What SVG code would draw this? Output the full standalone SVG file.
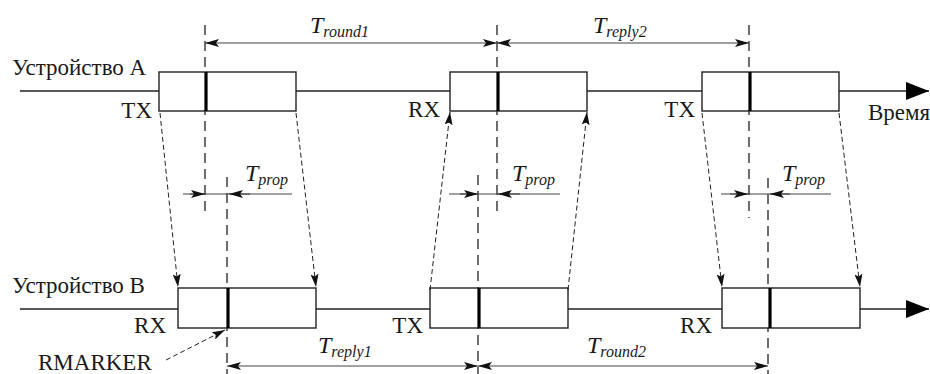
<svg xmlns="http://www.w3.org/2000/svg" width="930" height="374" viewBox="0 0 930 374">
<style>
text{font-family:"Liberation Serif","Times New Roman",serif;fill:#1a1a1a}
.lbl{font-size:23px}
.ti{font-size:24px;font-style:italic}
.sub{font-size:16px;font-style:italic}
.box{fill:#fff;stroke:#222;stroke-width:1.4}
.mk{stroke:#000;stroke-width:3.2}
.tl{stroke:#222;stroke-width:1.4;fill:none}
.vd{stroke:#333;stroke-width:1.4;stroke-dasharray:10 6;fill:none}
.dim{stroke:#444;stroke-width:1.1;fill:none;marker-start:url(#da);marker-end:url(#da)}
.pr{stroke:#444;stroke-width:1.1;fill:none}
.sl{stroke:#222;stroke-width:1;stroke-dasharray:5 3;fill:none;marker-end:url(#sa)}
</style>
<defs>
<marker id="da" markerUnits="userSpaceOnUse" markerWidth="15" markerHeight="8" refX="14" refY="4" orient="auto-start-reverse" viewBox="0 0 15 8">
<path d="M0,0 L14,4 L0,8 L3,4 z" fill="#111"/>
</marker>
<marker id="pa" markerUnits="userSpaceOnUse" markerWidth="15" markerHeight="8" refX="14" refY="4" orient="auto" viewBox="0 0 15 8">
<path d="M0,0 L14,4 L0,8 L3,4 z" fill="#111"/>
</marker>
<marker id="sa" markerUnits="userSpaceOnUse" markerWidth="14" markerHeight="8" refX="13" refY="4" orient="auto" viewBox="0 0 14 8">
<path d="M0,0 L13,4 L0,8 L2.5,4 z" fill="#111"/>
</marker>
<marker id="ta" markerUnits="userSpaceOnUse" markerWidth="24" markerHeight="18" refX="23" refY="9" orient="auto" viewBox="0 0 24 18">
<path d="M0,0 L23,9 L0,18 z" fill="#000"/>
</marker>
</defs>

<g id="timeline-a">
<line class="tl" x1="20" y1="91" x2="929" y2="91" marker-end="url(#ta)"/>
<text class="lbl" x="12" y="75">Устройство А</text>
<text class="lbl" x="868" y="120">Время</text>
</g>
<g id="timeline-b">
<line class="tl" x1="20" y1="309" x2="929" y2="309" marker-end="url(#ta)"/>
<text class="lbl" x="12" y="293">Устройство В</text>
</g>

<g id="guides">
<line class="vd" x1="205" y1="25" x2="205" y2="214"/>
<line class="vd" x1="497" y1="25" x2="497" y2="214"/>
<line class="vd" x1="749" y1="25" x2="749" y2="218"/>
<line class="vd" x1="227" y1="177" x2="227" y2="374"/>
<line class="vd" x1="478" y1="175" x2="478" y2="374"/>
<line class="vd" x1="768" y1="178" x2="768" y2="374"/>
</g>

<g id="a-tx1">
<rect class="box" x="159" y="72" width="137" height="39"/>
<line class="mk" x1="206" y1="72" x2="206" y2="111"/>
<text class="lbl" x="152" y="118" text-anchor="end">TX</text>
</g>
<g id="a-rx2">
<rect class="box" x="450" y="72" width="137" height="39"/>
<line class="mk" x1="498" y1="72" x2="498" y2="111"/>
<text class="lbl" x="440" y="117" text-anchor="end">RX</text>
</g>
<g id="a-tx3">
<rect class="box" x="702" y="72" width="137" height="39"/>
<line class="mk" x1="750" y1="72" x2="750" y2="111"/>
<text class="lbl" x="695" y="117" text-anchor="end">TX</text>
</g>

<g id="b-rx1">
<rect class="box" x="178" y="288" width="138" height="40"/>
<line class="mk" x1="228" y1="288" x2="228" y2="328"/>
<text class="lbl" x="166" y="333" text-anchor="end">RX</text>
</g>
<g id="b-tx2">
<rect class="box" x="430" y="288" width="138" height="40"/>
<line class="mk" x1="479" y1="288" x2="479" y2="328"/>
<text class="lbl" x="423" y="333" text-anchor="end">TX</text>
</g>
<g id="b-rx3">
<rect class="box" x="722" y="288" width="138" height="40"/>
<line class="mk" x1="770" y1="288" x2="770" y2="328"/>
<text class="lbl" x="712" y="333" text-anchor="end">RX</text>
</g>

<g id="rmarker">
<text class="lbl" x="38" y="370">RMARKER</text>
</g>

<g id="connectors">
<line class="sl" x1="160" y1="113" x2="178" y2="287"/>
<line class="sl" x1="296" y1="113" x2="316" y2="287"/>
<line class="sl" x1="430" y1="290" x2="450" y2="112"/>
<line class="sl" x1="568" y1="290" x2="587" y2="112"/>
<line class="sl" x1="702" y1="113" x2="722" y2="287"/>
<line class="sl" x1="839" y1="113" x2="860" y2="287"/>
<line class="sl" x1="166" y1="360" x2="225" y2="330"/>

<line class="dim" x1="205" y1="43" x2="497" y2="43"/>
<line class="dim" x1="497" y1="43" x2="749" y2="43"/>
<line class="dim" x1="227" y1="366" x2="478" y2="366"/>
<line class="dim" x1="478" y1="366" x2="768" y2="366"/>

<line class="pr" x1="183" y1="194" x2="292" y2="194"/>
<line class="pr" x1="190" y1="194" x2="205" y2="194" marker-end="url(#pa)"/>
<line class="pr" x1="250" y1="194" x2="229" y2="194" marker-end="url(#pa)"/>
<line class="pr" x1="449" y1="194" x2="560" y2="194"/>
<line class="pr" x1="460" y1="194" x2="478" y2="194" marker-end="url(#pa)"/>
<line class="pr" x1="520" y1="194" x2="498" y2="194" marker-end="url(#pa)"/>
<line class="pr" x1="721" y1="194" x2="831" y2="194"/>
<line class="pr" x1="730" y1="194" x2="748" y2="194" marker-end="url(#pa)"/>
<line class="pr" x1="790" y1="194" x2="770" y2="194" marker-end="url(#pa)"/>
</g>

<g id="labels">
<text x="310" y="33"><tspan class="ti">T</tspan><tspan class="sub" dy="4">round1</tspan></text>
<text x="593" y="33"><tspan class="ti">T</tspan><tspan class="sub" dy="4">reply2</tspan></text>
<text x="318" y="353"><tspan class="ti">T</tspan><tspan class="sub" dy="4">reply1</tspan></text>
<text x="587" y="353"><tspan class="ti">T</tspan><tspan class="sub" dy="4">round2</tspan></text>
<text x="245" y="181"><tspan class="ti">T</tspan><tspan class="sub" dy="4">prop</tspan></text>
<text x="512" y="181"><tspan class="ti">T</tspan><tspan class="sub" dy="4">prop</tspan></text>
<text x="782" y="181"><tspan class="ti">T</tspan><tspan class="sub" dy="4">prop</tspan></text>
</g>
</svg>
